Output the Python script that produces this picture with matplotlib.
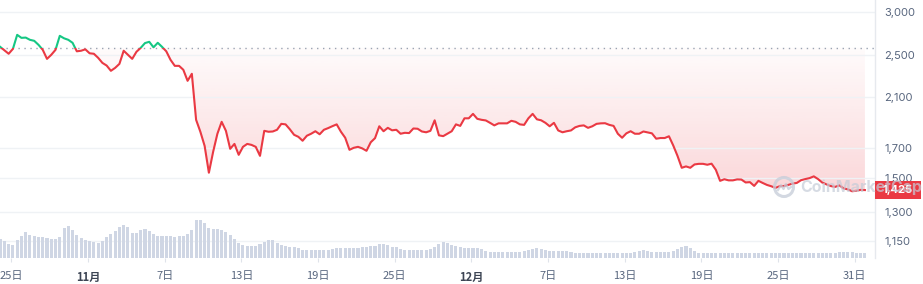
import numpy as np
import matplotlib
matplotlib.use("Agg")
import matplotlib.pyplot as plt
from matplotlib.patches import Rectangle, Circle
from matplotlib.lines import Line2D
from matplotlib.transforms import IdentityTransform
from matplotlib.ticker import FixedLocator, NullLocator, FuncFormatter

# ---------------- data ----------------
# time: days relative to 1 Nov, one sample every 8 hours
start_day = -6.875
step_day = 1 / 3

prices = [
    2592, 2555, 2518, 2570, 2725, 2691, 2694, 2669, 2658, 2614,
    2560, 2465, 2507, 2560, 2714, 2686, 2669, 2636, 2544, 2550,
    2565, 2523, 2518, 2476, 2424, 2397, 2345, 2374, 2414, 2550,
    2507, 2465, 2539, 2581, 2633, 2647, 2587, 2636, 2592, 2544,
    2455, 2394, 2394, 2355, 2249, 2316, 1911, 1818, 1714, 1532,
    1672, 1803, 1895, 1825, 1693, 1728, 1651, 1707, 1728, 1721,
    1707, 1644, 1825, 1818, 1820, 1833, 1879, 1875, 1837, 1795,
    1780, 1751, 1788, 1803, 1822, 1799, 1833, 1846, 1861, 1875,
    1818, 1773, 1686, 1700, 1707, 1696, 1679, 1740, 1770, 1860,
    1822, 1848, 1829, 1833, 1803, 1810, 1808, 1843, 1841, 1820,
    1814, 1825, 1907, 1791, 1785, 1803, 1822, 1875, 1863, 1923,
    1923, 1959, 1919, 1911, 1906, 1887, 1867, 1883, 1883, 1883,
    1903, 1895, 1875, 1871, 1923, 1959, 1915, 1907, 1887, 1860,
    1887, 1828, 1814, 1822, 1828, 1852, 1863, 1867, 1848, 1860,
    1879, 1883, 1884, 1871, 1863, 1803, 1773, 1806, 1822, 1803,
    1803, 1820, 1813, 1806, 1766, 1771, 1771, 1784, 1717, 1644,
    1564, 1573, 1564, 1586, 1590, 1590, 1584, 1591, 1551, 1481,
    1491, 1484, 1484, 1490, 1489, 1471, 1473, 1450, 1481, 1468,
    1456, 1448, 1438, 1448, 1449, 1456, 1464, 1468, 1485, 1492,
    1498, 1509, 1492, 1470, 1459, 1449, 1444, 1453, 1435, 1429,
    1418, 1421, 1426, 1425,
]

volume_bn = [
    1.9, 1.7, 1.4, 1.3, 1.8, 2.2, 2.6, 2.3, 2.2, 2.1,
    2.1, 2.0, 1.9, 1.9, 2.1, 3.0, 3.2, 2.8, 2.3, 2.0,
    1.8, 1.7, 1.6, 1.5, 1.7, 2.1, 2.4, 2.7, 3.1, 3.3,
    3.1, 2.5, 2.5, 2.8, 2.9, 2.7, 2.4, 2.2, 2.2, 2.2,
    2.2, 2.1, 2.2, 2.2, 2.4, 2.8, 3.8, 3.8, 3.5, 3.0,
    2.9, 2.9, 2.8, 2.6, 2.3, 1.9, 1.5, 1.3, 1.2, 1.2,
    1.2, 1.4, 1.6, 1.8, 1.8, 1.5, 1.3, 1.2, 1.1, 1.1,
    1.0, 0.8, 0.8, 0.8, 0.8, 0.8, 0.8, 0.8, 0.9, 1.0,
    1.0, 1.0, 1.0, 1.0, 1.0, 1.1, 1.1, 1.2, 1.2, 1.4,
    1.4, 1.3, 1.1, 1.1, 0.9, 0.8, 0.8, 0.8, 0.8, 0.8,
    0.8, 0.9, 1.1, 1.4, 1.6, 1.5, 1.3, 1.2, 1.1, 1.0,
    1.0, 1.0, 1.0, 0.9, 0.7, 0.65, 0.65, 0.65, 0.6, 0.6,
    0.6, 0.65, 0.65, 0.7, 0.8, 0.9, 1.0, 0.9, 0.8, 0.75,
    0.75, 0.75, 0.7, 0.7, 0.6, 0.55, 0.55, 0.55, 0.55, 0.55,
    0.55, 0.55, 0.55, 0.55, 0.55, 0.55, 0.55, 0.55, 0.55, 0.6,
    0.75, 0.8, 0.7, 0.65, 0.65, 0.65, 0.65, 0.65, 0.7, 0.9,
    1.1, 1.2, 1.0, 0.7, 0.55, 0.5, 0.5, 0.5, 0.5, 0.5,
    0.5, 0.5, 0.5, 0.55, 0.5, 0.5, 0.5, 0.5, 0.5, 0.5,
    0.5, 0.5, 0.5, 0.5, 0.5, 0.5, 0.5, 0.5, 0.5, 0.5,
    0.5, 0.5, 0.5, 0.5, 0.5, 0.55, 0.55, 0.6, 0.6, 0.6,
    0.6, 0.55, 0.5, 0.5,
]

reference_price = 2581
y_ticks = [1150, 1300, 1500, 1700, 2100, 2500, 3000]
x_tick_days = [-6, 0, 6, 12, 18, 24, 30, 36, 42, 48, 54, 60]
x_tick_labels = ["25日", "11月", "7日", "13日", "19日", "25日", "12月",
                 "7日", "13日", "19日", "25日", "31日"]
bold_labels = {"11月", "12月"}

# ---------------- styling ----------------
RED = "#ea3943"
GREEN = "#16c784"
GRID = "#eff2f5"
TEXT = "#58667e"
VOL = "#cfd6e4"

W, H = 923, 284
fig = plt.figure(figsize=(W / 100, H / 100), dpi=100)
fig.patch.set_facecolor("white")

pos = [0, 1 - 258 / H, 875 / W, 258 / H]
ax = fig.add_axes(pos)
axv = fig.add_axes(pos, sharex=ax)
axv.patch.set_alpha(0)

t = start_day + np.arange(len(prices)) * step_day
p = np.array(prices, dtype=float)
xlim = (-6.886, 61.58)
ylim = (1073, 3152)

ax.set_yscale("log")

# gradient fill under the reference level
fill = ax.fill_between(t, np.minimum(p, reference_price), reference_price,
                       color="none", lw=0)
ya = np.linspace(0, 1, 256)
alpha = np.clip(0.02 + (0.814 - ya) * 0.33, 0, 0.3)
grad = np.zeros((256, 1, 4))
grad[:, 0, 0] = 234 / 255
grad[:, 0, 1] = 57 / 255
grad[:, 0, 2] = 67 / 255
grad[:, 0, 3] = alpha
img = ax.imshow(grad, extent=[0, 1, 0, 1], transform=ax.transAxes,
                aspect="auto", origin="lower", zorder=1, interpolation="bilinear")
img.set_clip_path(fill.get_paths()[0], transform=ax.transData)

ax.set_xlim(*xlim)
ax.set_ylim(*ylim)

# price line, green above reference, red below
red_line, = ax.plot(t, p, color=RED, lw=1.5, zorder=3, solid_joinstyle="round")
green_line, = ax.plot(t, p, color=GREEN, lw=1.5, zorder=3, solid_joinstyle="round")
above = Rectangle((xlim[0] - 5, reference_price), 80, 1e5, transform=ax.transData)
below = Rectangle((xlim[0] - 5, 1), 80, reference_price - 1, transform=ax.transData)
green_line.set_clip_path(above)
red_line.set_clip_path(below)

ax.axhline(reference_price, color="#9aa3b2", lw=1, linestyle=(0, (1, 3.3)), zorder=2)

# y axis
ax.yaxis.tick_right()
ax.yaxis.set_major_locator(FixedLocator(y_ticks))
ax.yaxis.set_minor_locator(NullLocator())
ax.yaxis.set_major_formatter(FuncFormatter(lambda v, _: f"{int(round(v)):,}"))
ax.tick_params(axis="y", length=0, pad=6.5, labelsize=8, labelcolor=TEXT)
for lab in ax.get_yticklabels():
    lab.set_family(["Inter", "DejaVu Sans"])
ax.grid(axis="y", color=GRID, lw=1, zorder=0)

# x axis
ax.set_xticks(x_tick_days)
ax.set_xticklabels(x_tick_labels)
ax.xaxis.set_minor_locator(NullLocator())
ax.tick_params(axis="x", length=3, width=0.8, color="#dfe3ea", pad=6,
               labelsize=8, labelcolor=TEXT)
for lab in ax.get_xticklabels():
    lab.set_family(["Noto Sans CJK JP", "DejaVu Sans"])
    if lab.get_text() in bold_labels:
        lab.set_fontweight("bold")
        lab.set_color("#3d4554")

for s in ["top", "left", "bottom"]:
    ax.spines[s].set_visible(False)
ax.spines["right"].set_color("#e6e9ee")
ax.spines["right"].set_linewidth(1)

# volume bars
axv.bar(t, volume_bn, width=0.24, color=VOL, lw=0, zorder=1)
axv.set_ylim(0, max(volume_bn) * 258 / 38)
axv.tick_params(axis="both", which="both", length=0, labelbottom=False,
                labelleft=False, labelright=False)
for s in axv.spines.values():
    s.set_visible(False)

# current price tag
yd = ax.transData.transform((t[-1], p[-1]))[1]
tag = Rectangle((875, yd - 9), 46, 18, transform=IdentityTransform(),
                facecolor=RED, edgecolor="none", zorder=5)
fig.add_artist(tag)
fig.text(898 / W, yd / H, f"{prices[-1]:,}", ha="center", va="center",
         color="white", fontsize=8, fontweight="bold",
         family=["Inter", "DejaVu Sans"], zorder=6)

# watermark
WM = "#c5ccd8"
fig.add_artist(Circle((784, H - 187), 9.5, transform=IdentityTransform(),
                      fill=False, edgecolor=WM, lw=2.2, alpha=0.75, zorder=7))
fig.add_artist(Line2D([778, 781, 783.5, 786, 788.5, 791],
                      [H - 190, H - 185, H - 189, H - 184, H - 189, H - 187],
                      transform=IdentityTransform(), color=WM, lw=1.6,
                      alpha=0.75, zorder=7))
fig.text(800 / W, 1 - 187 / H, "CoinMarketCap", ha="left", va="center",
         fontsize=11.5, fontweight="bold", color=WM, alpha=0.7,
         family=["Inter", "DejaVu Sans"], zorder=8)

fig.savefig("out.png", dpi=100, facecolor="white")
